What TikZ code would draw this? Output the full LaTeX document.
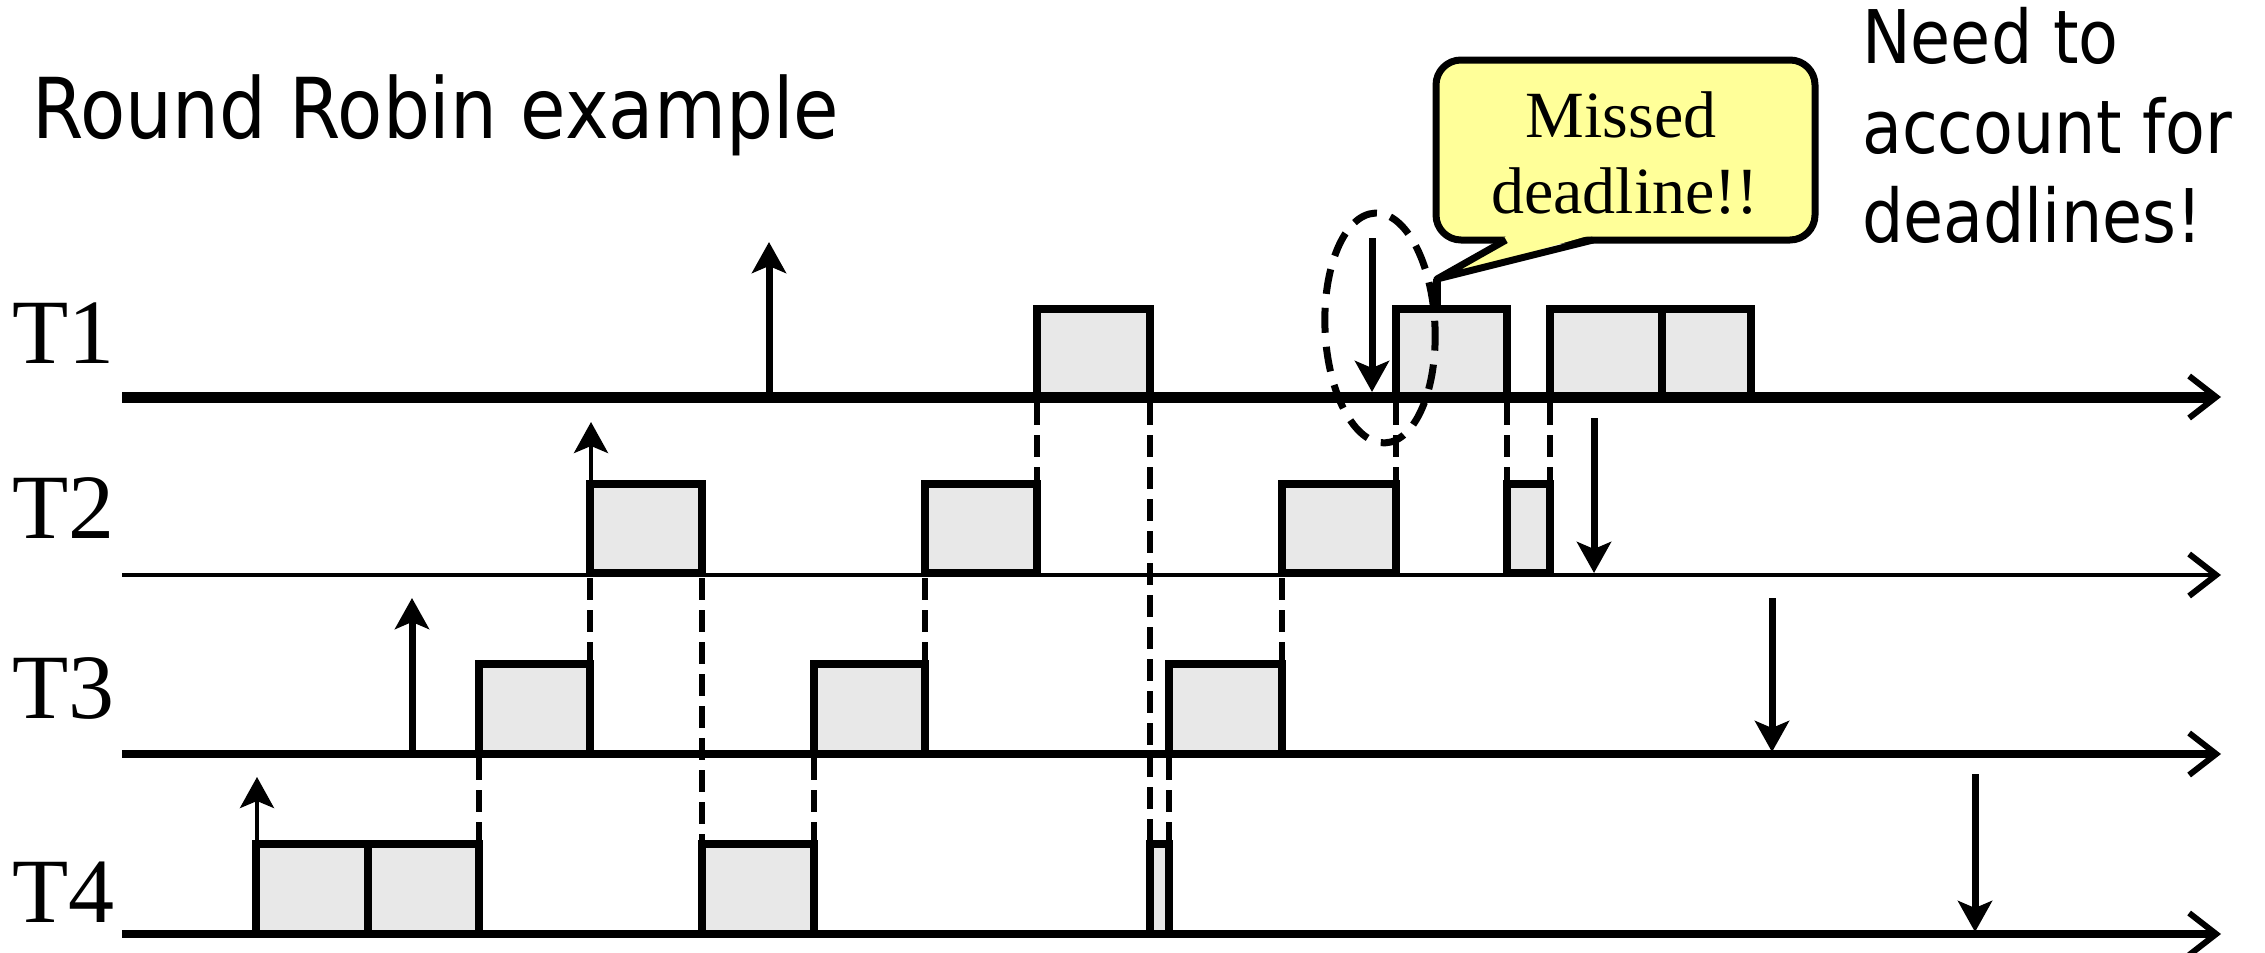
\documentclass[tikz,border=0pt]{standalone}
\usepackage{fontspec}
\setmainfont{Liberation Serif}
\newfontfamily\tahoma[FakeStretch=0.88]{DejaVu Sans}
\usetikzlibrary{arrows.meta}
\definecolor{boxgray}{HTML}{E8E8E8}
\definecolor{callyellow}{HTML}{FFFF99}
\begin{document}
\begin{tikzpicture}[x=1pt,y=-1pt,
  slotbox/.style={draw=black, fill=boxgray, line width=7.5pt},
  switchline/.style={line width=6pt, dash pattern=on 22pt off 10pt},
  axisline/.style={-{Straight Barb[length=27pt,width=42pt,line width=6pt 0]}},
  evarrow/.style={-{Stealth[length=31pt,width=34pt,inset=7pt]}},
  tlabel/.style={font=\fontsize{92}{92}\selectfont, anchor=base west, inner sep=0pt},
  sanstext/.style={anchor=base west, inner sep=0pt},
  calltext/.style={font=\fontsize{66}{66}\selectfont, anchor=base, inner sep=0pt}
]
\useasboundingbox (0,0) rectangle (2265,953);

% title and note
\node[sanstext, font=\tahoma\fontsize{84}{84}\selectfont] (title) at (32,138) {Round Robin example};
\node[sanstext, font=\tahoma\fontsize{74}{74}\selectfont] (need1) at (1862,63) {Need to};
\node[sanstext, font=\tahoma\fontsize{74}{74}\selectfont] (need2) at (1862,153) {account for};
\node[sanstext, font=\tahoma\fontsize{74}{74}\selectfont] (need3) at (1862,242) {deadlines!};

% task labels
\node[tlabel] (L1) at (12,363) {T1};
\node[tlabel] (L2) at (12,538) {T2};
\node[tlabel] (L3) at (12,718) {T3};
\node[tlabel] (L4) at (12,922) {T4};

% execution slots
\foreach \a/\b/\t/\r in {256/368/844/934, 368/479/844/934, 702/814/844/934, 1150/1169/844/934,
  479/590/664/754, 814/925/664/754, 1169/1282/664/754,
  590/702/484/573, 925/1037/484/573, 1282/1396/484/573, 1507/1550/484/573,
  1037/1150/309/397, 1396/1507/309/397, 1550/1662/309/397, 1662/1751/309/397}
  \draw[slotbox] (\a,\t) rectangle (\b,\r);

% time axes
\coordinate (A1s) at (122,397); \coordinate (A1e) at (2221,397);
\coordinate (A2s) at (122,575); \coordinate (A2e) at (2221,575);
\coordinate (A3s) at (122,754); \coordinate (A3e) at (2221,754);
\coordinate (A4s) at (122,934); \coordinate (A4e) at (2221,934);
\draw[axisline, line width=11pt] (A1s) -- (A1e);
\draw[axisline, line width=4pt] (A2s) -- (A2e);
\draw[axisline, line width=8.5pt] (A3s) -- (A3e);
\draw[axisline, line width=8.5pt] (A4s) -- (A4e);

% context switches
\foreach \x/\ya/\yb in {479/758/840, 590/578/660, 702/578/840, 814/758/840, 925/578/660,
  1037/403/480, 1150/403/840, 1169/758/840, 1282/578/660, 1396/403/480, 1507/403/480, 1550/403/480}
  \draw[switchline] (\x,\ya) -- (\x,\yb);

% releases
\coordinate (r4a) at (257,840); \coordinate (r4b) at (257,777);
\coordinate (r3a) at (412,750); \coordinate (r3b) at (412,598);
\coordinate (r2a) at (591,480); \coordinate (r2b) at (591,422);
\coordinate (r1a) at (769,392); \coordinate (r1b) at (769,242);
\draw[evarrow, line width=4pt] (r4a) -- (r4b);
\draw[evarrow, line width=7pt] (r3a) -- (r3b);
\draw[evarrow, line width=4pt] (r2a) -- (r2b);
\draw[evarrow, line width=7pt] (r1a) -- (r1b);

% deadlines
\coordinate (d1a) at (1372,238); \coordinate (d1b) at (1372,392);
\coordinate (d2a) at (1594,418); \coordinate (d2b) at (1594,573);
\coordinate (d3a) at (1772,598); \coordinate (d3b) at (1772,752);
\coordinate (d4a) at (1975,774); \coordinate (d4b) at (1975,932);
\foreach \n in {1,2,3,4}
  \draw[evarrow, line width=7pt] (d\n a) -- (d\n b);

% missed deadline highlight
\draw[line width=7pt, dash pattern=on 25pt off 14pt, rotate around={2.5:(1380,328)}]
  (1380,328) ellipse [x radius=55, y radius=115];

% callout
\node[draw=black, line width=7pt, fill=callyellow, rounded corners=25pt,
  minimum width=379pt, minimum height=180pt, inner sep=0pt] (call) at (1625.5,150) {};
\fill[callyellow] (1508,235) -- (1437,279) -- (1591,235) -- cycle;
\draw[line width=7pt, line join=round] (1506,240) -- (1437,279) -- (1593,240);
\coordinate (stemtop) at (1437,279); \coordinate (stembot) at (1437,310);
\draw[line width=8pt] (stemtop) -- (stembot);
\node[calltext] (miss1) at (1621,137) {Missed};
\node[calltext] (miss2) at (1625,213) {deadline!!};
\end{tikzpicture}
\end{document}
